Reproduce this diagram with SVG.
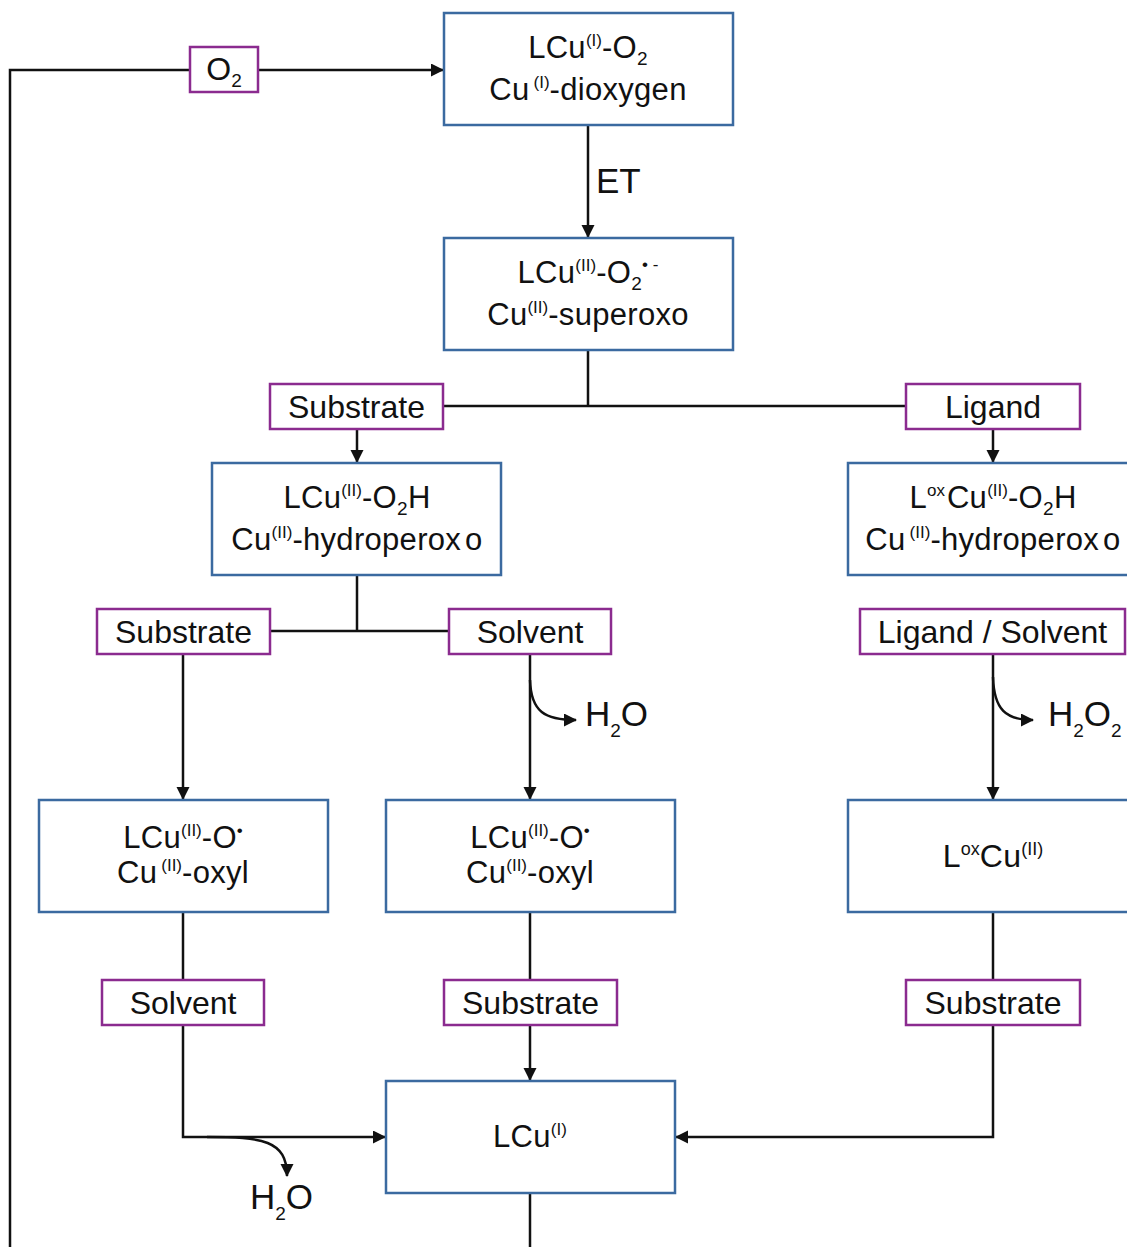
<svg xmlns="http://www.w3.org/2000/svg" width="1127" height="1247" viewBox="0 0 1127 1247">
<style>
text{font-family:"Liberation Sans",Arial,sans-serif;fill:#111;}
.box{fill:#fff;stroke:#3b6aa0;stroke-width:2.5;}
.lab{fill:#fff;stroke:#8b2b8f;stroke-width:2.5;}
.t{font-size:31px;text-anchor:middle;letter-spacing:0.3px;}
.l{font-size:32px;text-anchor:middle;}
.c{fill:none;stroke:#111;stroke-width:2.5;}
.sup{font-size:17px;letter-spacing:0;}
.sub{font-size:19px;}
.w{font-size:35px;}
</style>
<defs>
<marker id="ah" markerUnits="userSpaceOnUse" markerWidth="14" markerHeight="14" refX="12" refY="6.5" orient="auto">
<path d="M0,0 L13,6.5 L0,13 Z" fill="#111"/>
</marker>
</defs>
<rect width="1127" height="1247" fill="#fff"/>
<g id="connectors">
<path class="c" d="M530,1193 V1247"/>
<path class="c" d="M10,1247 V70 H190"/>
<path class="c" d="M258,70 H443" marker-end="url(#ah)"/>
<path class="c" d="M588,125 V237" marker-end="url(#ah)"/>
<path class="c" d="M588,350 V406 M443,406 H906"/>
<path class="c" d="M357,429 V462" marker-end="url(#ah)"/>
<path class="c" d="M993,429 V462" marker-end="url(#ah)"/>
<path class="c" d="M357,575 V631 M270,631 H449"/>
<path class="c" d="M183,654 V799" marker-end="url(#ah)"/>
<path class="c" d="M530,654 V799" marker-end="url(#ah)"/>
<path class="c" d="M530,680 C531,712 545,720 576,720" marker-end="url(#ah)"/>
<path class="c" d="M993,654 V799" marker-end="url(#ah)"/>
<path class="c" d="M993,677 C994,710 1006,720 1033,720" marker-end="url(#ah)"/>
<path class="c" d="M183,912 V980"/>
<path class="c" d="M183,1025 V1137 H385" marker-end="url(#ah)"/>
<path class="c" d="M207,1137 C262,1137 287,1140 287,1176" marker-end="url(#ah)"/>
<path class="c" d="M530,912 V980"/>
<path class="c" d="M530,1025 V1080" marker-end="url(#ah)"/>
<path class="c" d="M993,912 V980"/>
<path class="c" d="M993,1025 V1137 H676" marker-end="url(#ah)"/>
</g>
<g id="label-O2">
<rect class="lab" x="190" y="47" width="68" height="45"/>
<text class="l" x="224" y="80">O<tspan class="sub" dy="7">2</tspan></text>
</g>
<g id="label-ET">
<text x="596" y="193" style="font-size:35px">ET</text>
</g>
<g id="node-dioxygen">
<rect class="box" x="444" y="13" width="289" height="112"/>
<text class="t" x="588" y="58">LCu<tspan class="sup" dy="-12">(I)</tspan><tspan dy="12">-O</tspan><tspan class="sub" dy="7">2</tspan></text>
<text class="t" x="588" y="100">Cu<tspan class="sup" dx="4" dy="-12">(I)</tspan><tspan dy="12">-dioxygen</tspan></text>
</g>
<g id="node-superoxo">
<rect class="box" x="444" y="238" width="289" height="112"/>
<text class="t" x="588" y="283">LCu<tspan class="sup" dy="-12">(II)</tspan><tspan dy="12">-O</tspan><tspan class="sub" dy="7">2</tspan><tspan class="sup" dy="-20">• -</tspan></text>
<text class="t" x="588" y="325">Cu<tspan class="sup" dy="-12">(II)</tspan><tspan dy="12">-superoxo</tspan></text>
</g>
<g id="label-substrate1">
<rect class="lab" x="270" y="384" width="173" height="45"/>
<text class="l" x="356.5" y="418">Substrate</text>
</g>
<g id="label-ligand">
<rect class="lab" x="906" y="384" width="174" height="45"/>
<text class="l" x="993" y="418">Ligand</text>
</g>
<g id="node-hydroperoxo">
<rect class="box" x="212" y="463" width="289" height="112"/>
<text class="t" x="357" y="508">LCu<tspan class="sup" dy="-12">(II)</tspan><tspan dy="12">-O</tspan><tspan class="sub" dy="7">2</tspan><tspan dy="-7">H</tspan></text>
<text class="t" x="357" y="550">Cu<tspan class="sup" dy="-12">(II)</tspan><tspan dy="12">-hydroperox</tspan><tspan dx="4">o</tspan></text>
</g>
<g id="node-ox-hydroperoxo">
<rect class="box" x="848" y="463" width="290" height="112"/>
<text class="t" x="993" y="508">L<tspan class="sup" dy="-12">ox</tspan><tspan dx="2" dy="12">Cu</tspan><tspan class="sup" dy="-12">(II)</tspan><tspan dy="12">-O</tspan><tspan class="sub" dy="7">2</tspan><tspan dy="-7">H</tspan></text>
<text class="t" x="993" y="550">Cu<tspan class="sup" dx="4" dy="-12">(II)</tspan><tspan dy="12">-hydroperox</tspan><tspan dx="4">o</tspan></text>
</g>
<g id="label-substrate2">
<rect class="lab" x="97" y="609" width="173" height="45"/>
<text class="l" x="183.5" y="643">Substrate</text>
</g>
<g id="label-solvent1">
<rect class="lab" x="449" y="609" width="162" height="45"/>
<text class="l" x="530" y="643">Solvent</text>
</g>
<g id="label-ligand-solvent">
<rect class="lab" x="860" y="609" width="265" height="45"/>
<text class="l" x="992.5" y="643">Ligand / Solvent</text>
</g>
<g id="label-h2o-1">
<text class="w" x="585" y="726">H<tspan class="sub" dy="11">2</tspan><tspan dy="-11">O</tspan></text>
</g>
<g id="label-h2o2">
<text class="w" x="1048" y="726">H<tspan class="sub" dy="11">2</tspan><tspan dy="-11">O</tspan><tspan class="sub" dy="11">2</tspan></text>
</g>
<g id="node-oxyl1">
<rect class="box" x="39" y="800" width="289" height="112"/>
<text class="t" x="183" y="848">LCu<tspan class="sup" dy="-12">(II)</tspan><tspan dy="12">-O</tspan><tspan class="sup" dy="-12">•</tspan></text>
<text class="t" x="183" y="883">Cu<tspan class="sup" dx="4" dy="-12">(II)</tspan><tspan dy="12">-oxyl</tspan></text>
</g>
<g id="node-oxyl2">
<rect class="box" x="386" y="800" width="289" height="112"/>
<text class="t" x="530" y="848">LCu<tspan class="sup" dy="-12">(II)</tspan><tspan dy="12">-O</tspan><tspan class="sup" dy="-12">•</tspan></text>
<text class="t" x="530" y="883">Cu<tspan class="sup" dy="-12">(II)</tspan><tspan dy="12">-oxyl</tspan></text>
</g>
<g id="node-loxcu">
<rect class="box" x="848" y="800" width="290" height="112"/>
<text class="t" x="993" y="867" style="font-size:32px">L<tspan class="sup" dy="-12" style="font-size:18px">ox</tspan><tspan dy="12">Cu</tspan><tspan class="sup" dy="-12" style="font-size:18px">(II)</tspan></text>
</g>
<g id="label-solvent2">
<rect class="lab" x="102" y="980" width="162" height="45"/>
<text class="l" x="183" y="1014">Solvent</text>
</g>
<g id="label-substrate3">
<rect class="lab" x="444" y="980" width="173" height="45"/>
<text class="l" x="530.5" y="1014">Substrate</text>
</g>
<g id="label-substrate4">
<rect class="lab" x="906" y="980" width="174" height="45"/>
<text class="l" x="993" y="1014">Substrate</text>
</g>
<g id="node-lcu1">
<rect class="box" x="386" y="1081" width="289" height="112"/>
<text class="t" x="530" y="1147">LCu<tspan class="sup" dy="-12">(I)</tspan></text>
</g>
<g id="label-h2o-3">
<text class="w" x="250" y="1209">H<tspan class="sub" dy="11">2</tspan><tspan dy="-11">O</tspan></text>
</g>
</svg>
